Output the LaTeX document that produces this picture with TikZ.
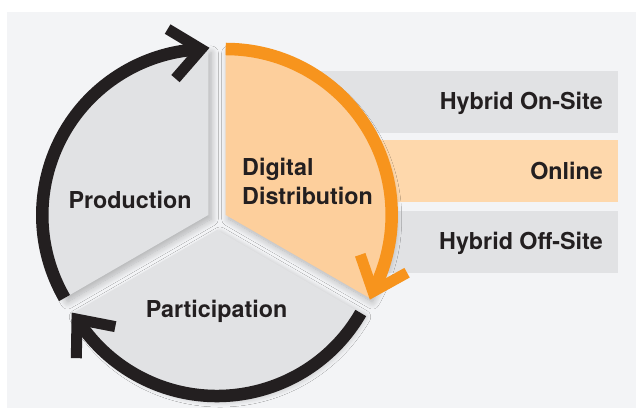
\documentclass[tikz,border=0pt]{standalone}
\usepackage{fontspec}
\setmainfont{TeX Gyre Heros}
\usetikzlibrary{shadows.blur}

\definecolor{panelbg}{HTML}{F3F4F6}
\definecolor{secgray}{HTML}{E1E2E4}
\definecolor{inkblack}{HTML}{231F20}
\definecolor{brandorange}{HTML}{F7941D}
\definecolor{paleorange}{HTML}{FDCF9C}
\definecolor{barorange}{HTML}{FED8AC}

\tikzset{
  sector/.style={blur shadow={shadow xshift=3pt, shadow yshift=-4pt,
      shadow blur steps=14, shadow blur radius=7pt, shadow opacity=28}},
  ring/.style={line width=12.5pt, line cap=butt},
  barb/.style={line width=11pt, line join=miter, line cap=butt},
  label/.style={font=\fontsize{23.3}{28}\selectfont\bfseries,
      text=inkblack, inner sep=0pt},
}

\begin{document}
\begin{tikzpicture}[x=1pt,y=1pt]
\useasboundingbox (0,0) rectangle (636,409);
\fill[panelbg] (7,1) rectangle (636,397);

% centres of the three exploded sectors
\coordinate (cP) at (208.3,194);
\coordinate (cD) at (225.7,194);
\coordinate (cQ) at (217,179);

% distribution channels
\fill[secgray]   (300,276) rectangle (618,338);
\fill[barorange] (300,207) rectangle (618,269);
\fill[secgray]   (335,136) rectangle (618,198);

% sectors
\path[sector, fill=secgray] (cQ) -- ++(210:166)
  arc[start angle=210, end angle=330, radius=166] -- cycle;
\path[sector, fill=secgray] (cP) -- ++(90:166)
  arc[start angle=90, end angle=210, radius=166] -- cycle;
\path[sector, fill=paleorange] (cD) -- ++(90:166)
  arc[start angle=90, end angle=-30, radius=166] -- cycle;

% cycle arrows
\draw[ring, inkblack] (cP) ++(210:166)
  arc[start angle=210, end angle=92.5, radius=166] coordinate (tipP);
\draw[barb, inkblack] (tipP) ++(149:39) -- (tipP) -- ++(229:39);

\draw[ring, inkblack] (cQ) ++(330:166)
  arc[start angle=330, end angle=212.5, radius=166] coordinate (tipQ);
\draw[barb, inkblack] (tipQ) ++(269:39) -- (tipQ) -- ++(349:39);

\draw[ring, brandorange] (cD) ++(90:166)
  arc[start angle=90, end angle=-27.5, radius=166] coordinate (tipD);
\draw[barb, brandorange] (tipD) ++(109:39) -- (tipD) -- ++(29:39);

% labels
\node[label, anchor=base] (prod) at (130,200) {Production};
\node[label, anchor=base] (part) at (216.5,91) {Participation};
\node[label, anchor=base west] (dig) at (242,233) {Digital};
\node[label, anchor=base west] (dist) at (242,204) {Distribution};
\node[label, anchor=base east] (onsite) at (603,299) {Hybrid On-Site};
\node[label, anchor=base east] (online) at (603,229) {Online};
\node[label, anchor=base east] (offsite) at (603,159) {Hybrid Off-Site};
\end{tikzpicture}
\end{document}
